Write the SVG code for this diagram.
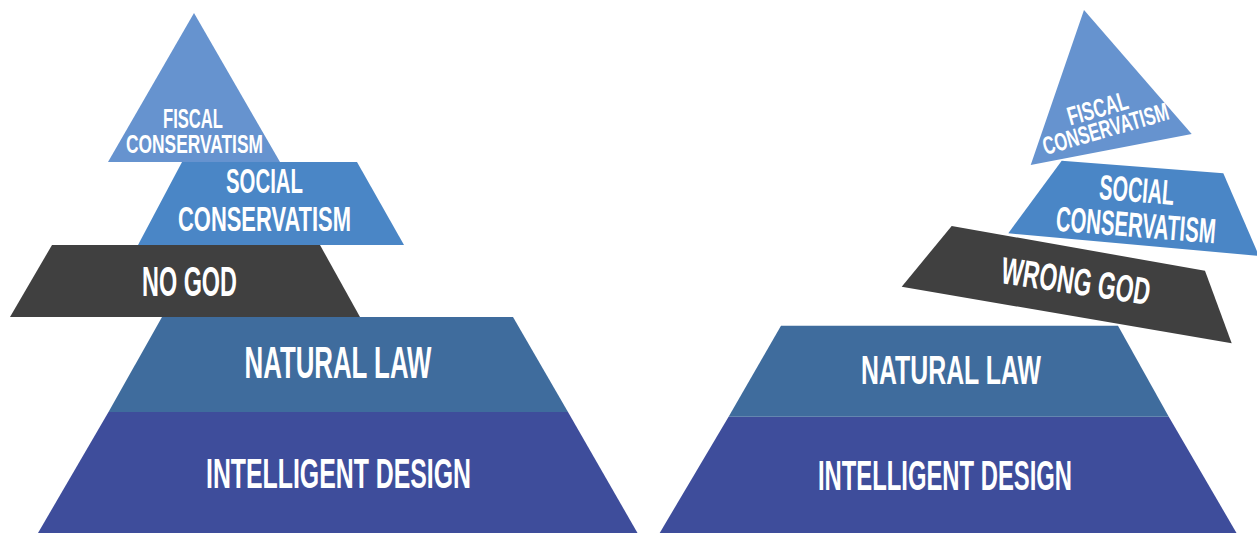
<svg xmlns="http://www.w3.org/2000/svg" width="1257" height="533" viewBox="0 0 1257 533">
<style>
.fiscal{fill:#6693CF}
.social{fill:#4A86C6}
.god{fill:#404040}
.law{fill:#3F6C9D}
.design{fill:#3E4D9B}
text{font-family:"Liberation Sans","DejaVu Sans",sans-serif;font-weight:bold;fill:#FFFFFF;text-anchor:middle}
</style>
<rect width="1257" height="533" fill="#FFFFFF"/>
<g id="left-design">
<polygon class="design" points="108.5,412 568,412 637.5,533 38,533"/>
<text x="338.5" y="488" font-size="43" textLength="265" lengthAdjust="spacingAndGlyphs">INTELLIGENT DESIGN</text>
</g>
<g id="left-law">
<polygon class="law" points="162,317 513,317 568,412 108.5,412"/>
<text x="338" y="378" font-size="44" textLength="187" lengthAdjust="spacingAndGlyphs">NATURAL LAW</text>
</g>
<g id="left-god">
<polygon class="god" points="52,245 320,245 360,317 10,317"/>
<text x="189.5" y="296" font-size="43" textLength="95" lengthAdjust="spacingAndGlyphs">NO GOD</text>
</g>
<g id="left-social">
<polygon class="social" points="182,162 357,162 404,245 138,245"/>
<text x="264.5" y="193" font-size="35" textLength="77" lengthAdjust="spacingAndGlyphs">SOCIAL</text>
<text x="264.5" y="231" font-size="35" textLength="173" lengthAdjust="spacingAndGlyphs">CONSERVATISM</text>
</g>
<g id="left-fiscal">
<polygon class="fiscal" points="194,13 280,162 108,162"/>
<text x="193" y="128" font-size="28" textLength="60" lengthAdjust="spacingAndGlyphs">FISCAL</text>
<text x="194.5" y="153" font-size="26" textLength="137" lengthAdjust="spacingAndGlyphs">CONSERVATISM</text>
</g>
<g id="right-design">
<polygon class="design" points="728.6,416.7 1168.8,416.7 1236.5,533 659.7,533"/>
<text x="945" y="490" font-size="42" textLength="254" lengthAdjust="spacingAndGlyphs">INTELLIGENT DESIGN</text>
</g>
<g id="right-law">
<polygon class="law" points="781,325.7 1118,325.7 1168.8,416.7 728.6,416.7"/>
<text x="951" y="384" font-size="40" textLength="180" lengthAdjust="spacingAndGlyphs">NATURAL LAW</text>
</g>
<g id="right-god">
<polygon class="god" points="951.7,226 1205,270.7 1231.7,343.3 901.7,286.7"/>
<text x="1074" y="294" font-size="38" textLength="150" lengthAdjust="spacingAndGlyphs" transform="rotate(8.5 1074 294)">WRONG GOD</text>
</g>
<g id="right-social">
<polygon class="social" points="1061.7,160.7 1223.3,173.3 1259,256 1008.3,233.3"/>
<text x="1136" y="202" font-size="35" textLength="75" lengthAdjust="spacingAndGlyphs" transform="rotate(4.5 1136 202)">SOCIAL</text>
<text x="1135" y="237" font-size="35" textLength="160" lengthAdjust="spacingAndGlyphs" transform="rotate(4.5 1135 237)">CONSERVATISM</text>
</g>
<g id="right-fiscal">
<polygon class="fiscal" points="1084,10 1191.7,134 1030.7,165"/>
<text x="1100" y="117" font-size="26" textLength="62" lengthAdjust="spacingAndGlyphs" transform="rotate(-16 1100 117)">FISCAL</text>
<text x="1108" y="137" font-size="25" textLength="130" lengthAdjust="spacingAndGlyphs" transform="rotate(-16 1108 137)">CONSERVATISM</text>
</g>
</svg>
